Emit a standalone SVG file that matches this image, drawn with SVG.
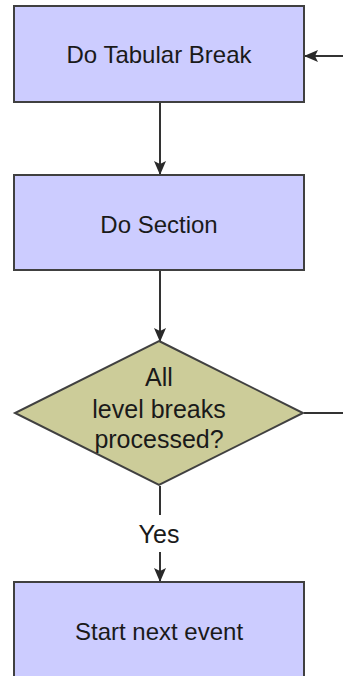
<svg xmlns="http://www.w3.org/2000/svg" width="343" height="676" viewBox="0 0 343 676">
  <style>
    .box { fill: #ccccff; stroke: #404040; stroke-width: 2; }
    .dec { fill: #cccc99; stroke: #404040; stroke-width: 2; }
    .lbl { font-family: "Liberation Sans", Arial, sans-serif; font-size: 24px; fill: #1a1a1a; text-anchor: middle; }
    .dlbl { font-family: "Liberation Sans", Arial, sans-serif; font-size: 25px; fill: #1a1a1a; text-anchor: middle; }
    .wire { fill: none; stroke: #333333; stroke-width: 2; }
  </style>
  <defs>
    <marker id="arrow" viewBox="0 0 14 12" refX="13" refY="6" markerWidth="14" markerHeight="12" markerUnits="userSpaceOnUse" orient="auto">
      <path d="M0,0 L14,6 L0,12 L3,6 Z" fill="#2a2a2a"/>
    </marker>
  </defs>

  <rect width="343" height="676" fill="#ffffff"/>

  <g id="connectors">
    <line class="wire" x1="160" y1="103" x2="160" y2="174" marker-end="url(#arrow)"/>
    <line class="wire" x1="160" y1="271" x2="160" y2="341" marker-end="url(#arrow)"/>
    <line class="wire" x1="160" y1="486" x2="160" y2="515"/>
    <line class="wire" x1="160" y1="552" x2="160" y2="581" marker-end="url(#arrow)"/>
    <line class="wire" x1="304" y1="413" x2="343" y2="413"/>
    <line class="wire" x1="343" y1="56" x2="305" y2="56" marker-end="url(#arrow)"/>
    <text class="dlbl" x="159" y="543">Yes</text>
  </g>

  <g id="tabular-break">
    <rect class="box" x="14" y="6" width="290" height="96"/>
    <text class="lbl" x="159" y="63">Do Tabular Break</text>
  </g>

  <g id="section">
    <rect class="box" x="14" y="175" width="290" height="95"/>
    <text class="lbl" x="159" y="233">Do Section</text>
  </g>

  <g id="all-processed">
    <polygon class="dec" points="159,341 303,413 159,485 15,413"/>
    <text class="dlbl" x="159" y="386">All</text>
    <text class="dlbl" x="159" y="418">level breaks</text>
    <text class="dlbl" x="159" y="448">processed?</text>
  </g>

  <g id="next-event">
    <rect class="box" x="14" y="582" width="290" height="100"/>
    <text class="lbl" x="159" y="640">Start next event</text>
  </g>
</svg>
